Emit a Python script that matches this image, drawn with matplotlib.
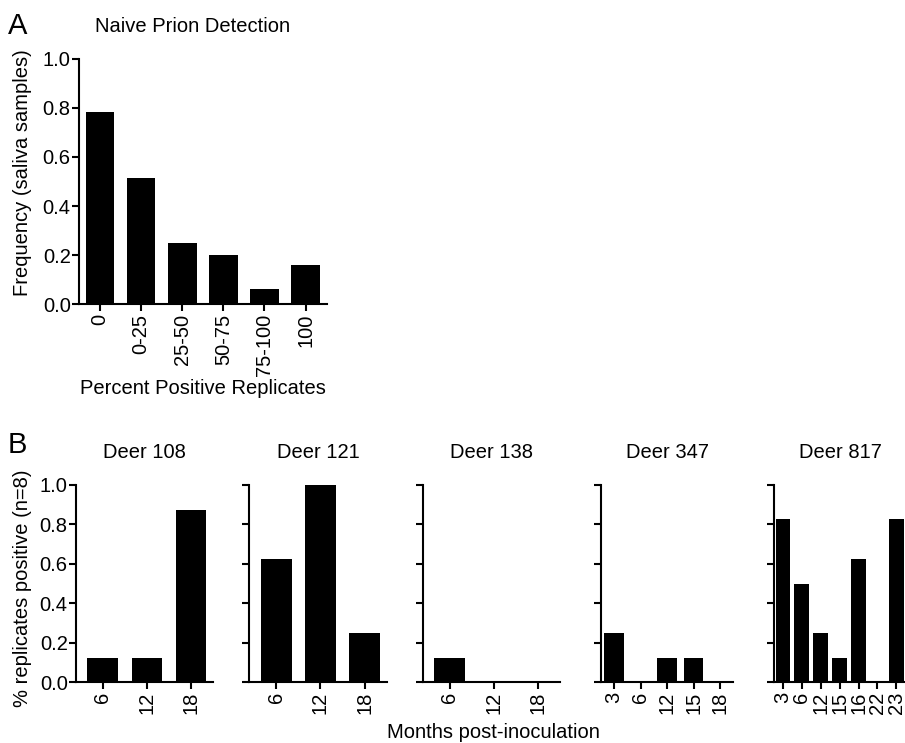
import numpy as np
import matplotlib.pyplot as plt

plt.rcParams['font.family'] = ['Liberation Sans', 'DejaVu Sans']
plt.rcParams['font.size'] = 14.5

# panel A data
freq_cats = ["0", "0-25", "25-50", "50-75", "75-100", "100"]
freq_vals = [0.783, 0.513, 0.251, 0.202, 0.061, 0.161]

# panel B data
deer_names = ["Deer 108", "Deer 121", "Deer 138", "Deer 347", "Deer 817"]
deer_months = [["6", "12", "18"],
               ["6", "12", "18"],
               ["6", "12", "18"],
               ["3", "6", "12", "15", "18"],
               ["3", "6", "12", "15", "16", "22", "23"]]
deer_vals = [[0.125, 0.125, 0.875],
             [0.625, 1.0, 0.25],
             [0.125, 0.0, 0.0],
             [0.25, 0.0, 0.125, 0.125, 0.0],
             [0.83, 0.5, 0.25, 0.125, 0.625, 0.0, 0.83]]

W, H = 905, 743
fig = plt.figure(figsize=(W / 100, H / 100), dpi=100)


def px(x0, y0, x1, y1):
    # pixel box -> figure fraction [left, bottom, width, height]
    return [x0 / W, 1 - y1 / H, (x1 - x0) / W, (y1 - y0) / H]


def style(ax, show_labels=True):
    for s in ["top", "right"]:
        ax.spines[s].set_visible(False)
    for s in ["left", "bottom"]:
        ax.spines[s].set_linewidth(1.5)
    ax.tick_params(width=1.5, length=5, pad=1)
    ax.tick_params(axis='x', pad=2)
    ax.set_ylim(0, 1.0)
    ax.set_yticks(np.arange(0, 1.01, 0.2))
    if show_labels:
        ax.set_yticklabels(["%.1f" % v for v in np.arange(0, 1.01, 0.2)])
    else:
        ax.set_yticklabels([])


# ---- A ----
axA = fig.add_axes(px(79, 58.7, 327, 304.3))
xa = np.arange(len(freq_cats))
axA.bar(xa, freq_vals, width=0.7, color='black')
axA.set_xlim(-0.51, 5.52)
axA.set_xticks(xa)
axA.set_xticklabels(freq_cats, rotation=90)
style(axA)
fig.text(193 / W, 1 - 27 / H, "Naive Prion Detection", ha='center', va='center')
fig.text(203 / W, 1 - 388 / H, "Percent Positive Replicates", ha='center', va='center')
fig.text(23 / W, 1 - 173 / H, "Frequency (saliva samples)", rotation=90,
         ha='center', va='center')
fig.text(8 / W, 1 - 26 / H, "A", fontsize=21, ha='left', va='center')

# ---- B ----
boxes = [(76, 213), (249.3, 386.7), (422.7, 560), (601.3, 733), (774.3, 906)]
xlims = [(-0.61, 2.5), (-0.61, 2.5), (-0.61, 2.5), (-0.48, 4.49), (-0.46, 6.51)]
widths = [0.7, 0.7, 0.7, 0.74, 0.79]
for i in range(len(deer_names)):
    ax = fig.add_axes(px(boxes[i][0], 485, boxes[i][1], 682.3))
    x = np.arange(len(deer_months[i]))
    ax.bar(x, deer_vals[i], width=widths[i], color='black')
    ax.set_xlim(*xlims[i])
    ax.set_xticks(x)
    ax.set_xticklabels(deer_months[i], rotation=90)
    style(ax, show_labels=(i == 0))
    fig.text((boxes[i][0] + boxes[i][1]) / 2 / W, 1 - 452 / H, deer_names[i],
             ha='center', va='center')

fig.text(23 / W, 1 - 588 / H, "% replicates positive (n=8)", rotation=90,
         ha='center', va='center')
fig.text(493 / W, 1 - 733 / H, "Months post-inoculation", ha='center', va='center')
fig.text(8 / W, 1 - 445 / H, "B", fontsize=21, ha='left', va='center')

fig.savefig("out.png", dpi=100)
